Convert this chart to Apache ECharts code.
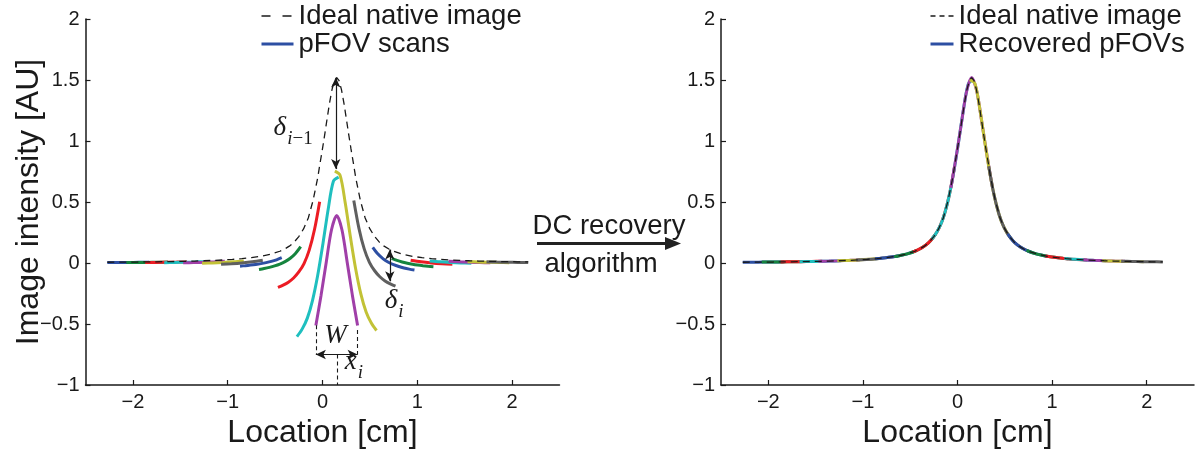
<!DOCTYPE html>
<html><head><meta charset="utf-8">
<script src="https://cdn.jsdelivr.net/npm/echarts@6/dist/echarts.min.js"></script>
<style>html,body{margin:0;padding:0;background:#fff}#c{width:1195px;height:454px}</style>
</head><body><div id="c"></div>
<script>
// ---------- data ----------
const idealX = [-2.27,-2.25,-2.15,-2.05,-1.95,-1.85,-1.75,-1.65,-1.55,-1.45,-1.35,-1.25,-1.15,-1.05,-0.95,-0.85,-0.75,-0.65,-0.55,-0.45,
  -0.4,-0.35,-0.3,-0.25,-0.2,-0.15,-0.1,-0.05,
  -0.025,0,0.025,0.05,0.075,0.1,0.125,0.15,0.175,0.2,0.225,0.25,0.275,0.3,0.325,0.35,
  0.4,0.45,0.5,0.55,0.6,0.65,0.7,0.75,
  0.85,0.95,1.05,1.15,1.25,1.35,1.45,1.55,1.65,1.75,1.85,1.95,2.05,2.15,2.17];
const idealY = [0.0062,0.0063,0.0069,0.0075,0.0082,0.0091,0.0100,0.0112,0.0125,0.0141,0.0161,0.0184,0.0213,0.0250,0.0296,0.0357,0.0438,0.0550,0.0710,0.0963,
  0.1145,0.138,0.1706,0.2165,0.279,0.369,0.511,0.701,
  0.822,0.937,1.061,1.190,1.315,1.421,1.494,1.52,1.494,1.421,1.315,1.190,1.061,0.937,0.822,0.701,
  0.511,0.369,0.279,0.2165,0.1706,0.138,0.1145,0.0963,
  0.0710,0.0550,0.0438,0.0357,0.0296,0.0250,0.0213,0.0184,0.0161,0.0141,0.0125,0.0112,0.0100,0.0091,0.0089];

const scanX = [
  [-2.27,-2.16,-2.05,-1.94,-1.83],
  [-2.07,-1.96,-1.85,-1.74,-1.63],
  [-1.87,-1.76,-1.65,-1.54,-1.43],
  [-1.67,-1.56,-1.45,-1.34,-1.23],
  [-1.47,-1.36,-1.25,-1.14,-1.03],
  [-1.27,-1.16,-1.05,-0.94,-0.83],
  [-1.07,-0.96,-0.85,-0.74,-0.63],
  [-0.87,-0.815,-0.76,-0.705,-0.65,-0.595,-0.54,-0.485,-0.43],
  [-0.67,-0.615,-0.56,-0.505,-0.45,-0.395,-0.34,-0.285,-0.23],
  [-0.47,-0.415,-0.36,-0.305,-0.25,-0.195,-0.14,-0.085,-0.03],
  [-0.27,-0.215,-0.16,-0.105,-0.05,0.005,0.06,0.115,0.17],
  [-0.07,-0.015,0.04,0.095,0.15,0.205,0.26,0.315,0.37],
  [0.13,0.185,0.24,0.295,0.35,0.405,0.46,0.515,0.57],
  [0.33,0.385,0.44,0.495,0.55,0.605,0.66,0.715,0.77],
  [0.53,0.585,0.64,0.695,0.75,0.805,0.86,0.915,0.97],
  [0.73,0.785,0.84,0.895,0.95,1.005,1.06,1.115,1.17],
  [0.93,1.04,1.15,1.26,1.37],
  [1.13,1.24,1.35,1.46,1.57],
  [1.33,1.44,1.55,1.66,1.77],
  [1.53,1.64,1.75,1.86,1.97],
  [1.73,1.84,1.95,2.06,2.17]
];
// pFOV scans (left panel, each with its own DC offset)
const scanY = [
  [0.0032,0.0038,0.0045,0.0053,0.0063],
  [0.0034,0.0042,0.0051,0.0062,0.0074],
  [0.0039,0.0049,0.0062,0.0077,0.0095],
  [0.0029,0.0044,0.0061,0.0083,0.0109],
  [0.0018,0.0038,0.0064,0.0096,0.0138],
  [-0.0021,0.0010,0.0050,0.0101,0.0171],
  [-0.0108,-0.0059,0.0007,0.0097,0.0227],
  [-0.0257,-0.0218,-0.0171,-0.0116,-0.0050,0.0031,0.0130,0.0262,0.0432],
  [-0.0526,-0.0451,-0.0358,-0.0239,-0.0087,0.0115,0.0390,0.0781,0.1336],
  [-0.1995,-0.1810,-0.1569,-0.1227,-0.0735,-0.0043,0.1055,0.2721,0.5030],
  [-0.6031,-0.5421,-0.4518,-0.3058,-0.0990,0.1606,0.4414,0.6701,0.7033],
  [-0.5124,-0.2634,0.0086,0.2725,0.39,0.2725,0.0086,-0.2634,-0.5124],
  [0.7533,0.7201,0.4914,0.2106,-0.0490,-0.2558,-0.4018,-0.4921,-0.5531],
  [0.5130,0.2821,0.1155,0.0057,-0.0635,-0.1127,-0.1469,-0.1710,-0.1895],
  [0.1286,0.0731,0.0340,0.0065,-0.0137,-0.0289,-0.0408,-0.0501,-0.0576],
  [0.0382,0.0212,0.0080,-0.0019,-0.0100,-0.0166,-0.0221,-0.0268,-0.0307],
  [0.0227,0.0097,0.0007,-0.0059,-0.0108],
  [0.0171,0.0101,0.0050,0.0010,-0.0021],
  [0.0138,0.0096,0.0064,0.0038,0.0018],
  [0.0109,0.0083,0.0061,0.0044,0.0029],
  [0.0095,0.0077,0.0062,0.0049,0.0039]
];
// recovered pFOVs (right panel)
const recoveredY = [
  [0.0062,0.0068,0.0075,0.0083,0.0093],
  [0.0074,0.0082,0.0091,0.0102,0.0114],
  [0.0089,0.0099,0.0112,0.0127,0.0145],
  [0.0109,0.0124,0.0141,0.0163,0.0189],
  [0.0138,0.0158,0.0184,0.0216,0.0258],
  [0.0179,0.0210,0.0250,0.0301,0.0371],
  [0.0242,0.0291,0.0357,0.0447,0.0577],
  [0.0343,0.0382,0.0429,0.0484,0.0550,0.0631,0.0730,0.0862,0.1032],
  [0.0524,0.0599,0.0692,0.0811,0.0963,0.1165,0.1440,0.1831,0.2386],
  [0.0905,0.1090,0.1331,0.1673,0.2165,0.2857,0.3955,0.5621,0.7930],
  [0.1969,0.2579,0.3482,0.4942,0.7010,0.9606,1.2414,1.4701,1.5033],
  [0.6176,0.8666,1.1386,1.4025,1.52,1.4025,1.1386,0.8666,0.6176],
  [1.5033,1.4701,1.2414,0.9606,0.7010,0.4942,0.3482,0.2579,0.1969],
  [0.7930,0.5621,0.3955,0.2857,0.2165,0.1673,0.1331,0.1090,0.0905],
  [0.2386,0.1831,0.1440,0.1165,0.0963,0.0811,0.0692,0.0599,0.0524],
  [0.1032,0.0862,0.0730,0.0631,0.0550,0.0484,0.0429,0.0382,0.0343],
  [0.0577,0.0447,0.0357,0.0291,0.0242],
  [0.0371,0.0301,0.0250,0.0210,0.0179],
  [0.0258,0.0216,0.0184,0.0158,0.0138],
  [0.0189,0.0163,0.0141,0.0124,0.0109],
  [0.0145,0.0127,0.0112,0.0099,0.0089]
];
const xTicks = [-2,-1,0,1,2];
const yTicks = [-1,-0.5,0,0.5,1,1.5,2];
// annotation anchors (data coordinates)
const arrowDeltaPrev = [[0.14,1.52],[0.14,0.77]];
const arrowDeltaI = [[0.71,0.11],[0.71,-0.15]];
const arrowW = [[-0.07,-0.75],[0.37,-0.75]];
const guideW1 = [[-0.07,-0.51],[-0.07,-0.75]];
const guideW2 = [[0.37,-0.55],[0.37,-0.75]];
const guideXi = [[0.157,-0.75],[0.157,-1]];
const labelDeltaPrev = [-0.31,1.056];
const labelDeltaI = [0.755,-0.36];
const labelW = [0.136,-0.60];
const labelXi = [0.33,-0.86];

// ---------- style ----------
const colors = ['#2d4fa3','#15843e','#ec1c24','#1fbfbf','#a03fa8','#c2c236','#5f5f5f'];
const INK = '#1a1a1a';
const SANS = 'Liberation Sans';
const SERIF = 'Liberation Serif';
const fmt = v => String(v).replace('-', '\u2212');

const chart = echarts.init(document.getElementById('c'), null, {renderer:'canvas'});

function axisX(i){
  return {gridIndex:i, type:'value', min:-2.5, max:2.5,
    axisLine:{show:true, onZero:false, lineStyle:{color:INK, width:1.5}},
    axisTick:{show:true, inside:true, length:5, customValues:xTicks, lineStyle:{color:INK, width:1.2}},
    axisLabel:{customValues:xTicks, formatter:fmt, fontSize:20, fontFamily:SANS, color:INK, margin:7},
    splitLine:{show:false},
    name:'Location [cm]', nameLocation:'middle', nameGap:32, nameMoveOverlap:false,
    nameTextStyle:{fontSize:32, fontFamily:SANS, color:INK}};
}
function axisY(i){
  return {gridIndex:i, type:'value', min:-1, max:2,
    axisLine:{show:true, onZero:false, lineStyle:{color:INK, width:1.5}},
    axisTick:{show:true, inside:true, length:5, customValues:yTicks, lineStyle:{color:INK, width:1.2}},
    axisLabel:{customValues:yTicks, formatter:fmt, fontSize:20, fontFamily:SANS, color:INK, margin:6},
    splitLine:{show:false},
    name: i === 0 ? 'Image intensity [AU]' : '', nameLocation:'middle', nameGap:40, nameMoveOverlap:false,
    nameTextStyle:{fontSize:32, fontFamily:SANS, color:INK}};
}

const series = [];
scanX.forEach((xs, k) => {
  const c = colors[k % 7];
  series.push({type:'line', name:'pFOV scans', xAxisIndex:0, yAxisIndex:0, symbol:'none', smooth:0.3,
    data: xs.map((x, i) => [x, scanY[k][i]]),
    lineStyle:{width:3, color:c}, itemStyle:{color:c}, z:2, silent:true});
});
scanX.forEach((xs, k) => {
  const c = colors[k % 7];
  series.push({type:'line', name:'Recovered pFOVs', xAxisIndex:1, yAxisIndex:1, symbol:'none', smooth:0.3,
    data: xs.map((x, i) => [x, recoveredY[k][i]]),
    lineStyle:{width:3, color:c}, itemStyle:{color:c}, z:2, silent:true});
});

const seg = (p, extra) => [Object.assign({coord:p[0]}, extra), Object.assign({coord:p[1]}, extra)];
const arrowStyle = {symbol:'arrow', lineStyle:{type:'solid', color:INK, width:1.2}};
const dashStyle = {symbol:'none', lineStyle:{type:[4,3], color:INK, width:1.1}};

const richBase = {
  d:{fontFamily:SERIF, fontStyle:'italic', fontSize:27, lineHeight:27, padding:[0,0,13,0], color:INK},
  s:{fontFamily:SERIF, fontStyle:'italic', fontSize:19, lineHeight:19, padding:[15.5,0,5.5,1], color:INK},
  n:{fontFamily:SERIF, fontSize:19, lineHeight:19, padding:[15.5,0,5.5,0], color:INK},
  w:{fontFamily:SERIF, fontStyle:'italic', fontSize:27, lineHeight:27, color:INK}
};
const txt = (coord, f) => ({coord, symbol:'rect', symbolSize:1, itemStyle:{color:'rgba(0,0,0,0)'},
  label:{show:true, position:'inside', formatter:f, rich:richBase}});

series.push({type:'line', name:'Ideal native image', xAxisIndex:0, yAxisIndex:0, symbol:'none',
  data: idealX.map((x, i) => [x, idealY[i]]),
  lineStyle:{color:INK, width:1.3, type:[7,5]}, itemStyle:{color:INK}, z:5, silent:true,
  markLine:{silent:true, symbolSize:[7,10], label:{show:false}, animation:false,
    data:[ seg(arrowDeltaPrev, arrowStyle), seg(arrowDeltaI, arrowStyle), seg(arrowW, arrowStyle),
           seg(guideW1, dashStyle), seg(guideW2, dashStyle), seg(guideXi, dashStyle) ]},
  markPoint:{silent:true, animation:false,
    data:[ txt(labelDeltaPrev, '{d|δ}{s|i}{n|\u22121}'), txt(labelDeltaI, '{d|δ}{s|i}'),
           txt(labelW, '{w|W}'), txt(labelXi, '{d|x}{s|i}') ]}
});
series.push({type:'line', name:'Ideal native image', xAxisIndex:1, yAxisIndex:1, symbol:'none',
  data: idealX.map((x, i) => [x, idealY[i]]),
  lineStyle:{color:INK, width:1.3, type:[7,5]}, itemStyle:{color:INK}, z:5, silent:true});

const legendText = {fontSize:27.5, fontFamily:SANS, color:INK};
const hideSym = {opacity:0, color:'rgba(0,0,0,0)', borderWidth:0};
const option = {
  animation:false,
  backgroundColor:'#fff',
  grid:[
    {left:85.5, top:19, width:474, height:367, containLabel:false},
    {left:721, top:19, width:473, height:367, containLabel:false}
  ],
  xAxis:[axisX(0), axisX(1)],
  yAxis:[axisY(0), axisY(1)],
  legend:[
    {left:260, top:2, orient:'vertical', padding:0, itemGap:0, itemWidth:32, itemHeight:14,
     selectedMode:false, textStyle:legendText, itemStyle:hideSym,
     data:[{name:'Ideal native image', itemStyle:hideSym, lineStyle:{width:1.3, type:[9,12]}},
           {name:'pFOV scans', itemStyle:hideSym, lineStyle:{width:3}}]},
    {left:929, top:2, orient:'vertical', padding:0, itemGap:0, itemWidth:23, itemHeight:14,
     selectedMode:false, textStyle:legendText, itemStyle:hideSym,
     data:[{name:'Ideal native image', itemStyle:hideSym, lineStyle:{width:1.3, type:[5,4]}},
           {name:'Recovered pFOVs', itemStyle:hideSym, lineStyle:{width:3}}]}
  ],
  graphic:[
    {type:'text', style:{text:'DC recovery', x:609, y:226, align:'center', verticalAlign:'middle',
      font:'27.5px "Liberation Sans"', fill:INK}, z:100},
    {type:'text', style:{text:'algorithm', x:601, y:264, align:'center', verticalAlign:'middle',
      font:'27.5px "Liberation Sans"', fill:INK}, z:100},
    {type:'line', shape:{x1:537, y1:243.5, x2:668, y2:243.5}, style:{stroke:'#222', lineWidth:3}, z:100},
    {type:'polygon', shape:{points:[[665,237],[681,243.5],[665,250]]}, style:{fill:'#222'}, z:100}
  ],
  series
};
chart.setOption(option);
</script>
</body></html>
